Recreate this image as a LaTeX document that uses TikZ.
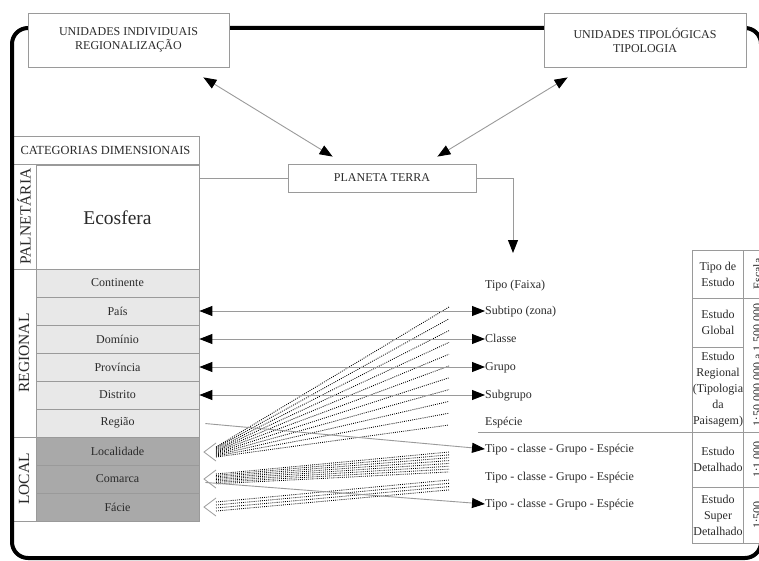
\documentclass[tikz,border=0pt]{standalone}
\usepackage{fontspec}
\setmainfont{Liberation Serif}
\usetikzlibrary{arrows.meta,calc}
\definecolor{lineg}{HTML}{9A9A9A}
\definecolor{txt}{HTML}{2A2A2A}
\definecolor{regfill}{HTML}{E8E8E8}
\definecolor{locfill}{HTML}{A9A9A9}
\begin{document}
\begin{tikzpicture}[x=1pt,y=-1pt,
  every node/.style={text=txt,font=\fontsize{12}{14}\selectfont},
  box/.style={draw=lineg,line width=0.8pt,fill=white,inner sep=0pt,align=center},
  regrow/.style={box,fill=regfill,minimum width=163pt,minimum height=28pt},
  locrow/.style={box,fill=locfill,minimum width=163pt,minimum height=28pt},
  sidecell/.style={box,rotate=90,minimum height=24pt,font=\fontsize{15.5}{18}\selectfont},
  studycell/.style={box,minimum width=52pt,font=\fontsize{12}{16}\selectfont},
  scalecell/.style={box,rotate=90,minimum height=28pt},
  lab/.style={anchor=west,inner sep=0pt,text height=9pt,text depth=3pt},
  link/.style={draw=lineg,line width=0.9pt},
  twoway/.style={link,{Triangle[length=13pt,width=10pt,color=black]}-{Triangle[length=13pt,width=10pt,color=black]}},
  oneway/.style={link,-{Triangle[length=13pt,width=10pt,color=black]}},
  fan/.style={draw=black,line width=0.85pt,dash pattern=on 0.9pt off 1.2pt},
  hollow/.style={draw=lineg,line width=0.8pt}
]
\clip (0,0) rectangle (759,561);

% ---- left table: dimensional categories ----
\node[box,minimum width=187pt,minimum height=28pt,font=\fontsize{12.4}{14}\selectfont] (cat) at (105.5,150) {CATEGORIAS DIMENSIONAIS};
\node[box,minimum width=163pt,minimum height=105pt,font=\fontsize{19.5}{22}\selectfont] (eco) at (117.5,217.5) {Ecosfera};
\node[sidecell,minimum width=105pt] (pal) at (24,216.5) {PALNETÁRIA};
\node[sidecell,minimum width=168pt] (reg) at (24,353) {REGIONAL};
\node[sidecell,minimum width=84pt] (loc) at (24,479) {LOCAL};

\node[regrow] (cont) at (117.5,283) {Continente};
\node[regrow] (pais) at (117.5,311) {País};
\node[regrow] (dom)  at (117.5,339) {Domínio};
\node[regrow] (prov) at (117.5,367) {Província};
\node[regrow] (dist) at (117.5,395) {Distrito};
\node[regrow] (regiao) at (117.5,423) {Região};
\node[locrow] (local) at (117.5,451) {Localidade};
\node[locrow] (com) at (117.5,479) {Comarca};
\node[locrow] (fac) at (117.5,507) {Fácie};

% ---- outer frame ----
\draw[line width=4pt,rounded corners=16pt] (12,28) rectangle (761,558);

% ---- top boxes ----
\node[box,minimum width=201pt,minimum height=54pt] (u1) at (128.5,40) {UNIDADES INDIVIDUAIS\\REGIONALIZAÇÃO};
\node[box,minimum width=202pt,minimum height=54pt] (u2) at (645,40) {UNIDADES TIPOLÓGICAS\\TIPOLOGIA};
\node[box,minimum width=188pt,minimum height=28pt] (pt) at (382,178) {PLANETA TERRA};

% ---- right column labels ----
\node[lab] (faixa) at (485,285) {Tipo (Faixa)};
\node[lab] (subt)  at (485,311) {Subtipo (zona)};
\node[lab] (cls)   at (485,339) {Classe};
\node[lab] (grp)   at (485,367) {Grupo};
\node[lab] (subg)  at (485,395) {Subgrupo};
\node[lab] (esp)   at (485,422) {Espécie};
\node[lab] (tcg1)  at (485,449) {Tipo - classe - Grupo - Espécie};
\node[lab] (tcg2)  at (485,477) {Tipo - classe - Grupo - Espécie};
\node[lab] (tcg3)  at (485,504) {Tipo - classe - Grupo - Espécie};

% ---- study type / scale table ----
\node[studycell,minimum height=48pt] (tde)  at (718,274)   {Tipo de\\Estudo};
\node[studycell,minimum height=49pt] (glob) at (718,322.5) {Estudo\\Global};
\node[studycell,minimum height=85pt] (regi) at (718,389.5) {Estudo\\Regional\\(Tipologia\\da\\Paisagem)};
\node[studycell,minimum height=55pt] (det)  at (718,459.5) {Estudo\\Detalhado};
\node[studycell,minimum height=56pt] (sup)  at (718,515)   {Estudo\\Super\\Detalhado};
\node[scalecell,minimum width=48pt]  (esc) at (757.5,274)   {Escala};
\node[scalecell,minimum width=134pt] (e1)  at (757.5,365)   {1:50.000.000 a 1.500.000};
\node[scalecell,minimum width=55pt]  (e2)  at (757.5,459.5) {1:1.000};
\node[scalecell,minimum width=56pt]  (e3)  at (757.5,515)   {1:500};

% ---- connectors among the boxes ----
\draw[twoway] ($(u1.south east)+(-26,10)$) -- ($(pt.north west)+(45,-7)$);
\draw[twoway] ($(u2.south west)+(24,10)$) -- ($(pt.north east)+(-39,-7)$);
\draw[link] (eco.east |- pt.west) -- (pt.west);
\coordinate (drop) at (513,253);
\draw[oneway] (pt.east) -| (drop);
\draw[link] (regi.south west) -- ++(-214,0);

% ---- dotted fans ending in hollow heads ----
\coordinate (hlA) at (204,452);
\coordinate (hlB) at (204,479);
\coordinate (hlC) at (204,507);
\foreach \k in {0,...,10}
  \draw[fan] ($(hlA)+(12,-5+\k)$) -- (449,{307+11.8*\k});
\foreach \k in {0,...,7}
  \draw[fan] ($(hlB)+(12,-5+1.4*\k)$) -- (449,{452+2.85*\k});
\foreach \k in {0,...,3}
  \draw[fan] ($(hlC)+(12,-5+3*\k)$) -- (449,{480+3.3*\k});
\foreach \h in {hlA,hlB,hlC}
  \draw[hollow] ($(\h)+(12,-9)$) -- (\h) -- ($(\h)+(12,9)$);

% ---- row connectors ----
\draw[twoway] (pais.east) -- (subt.west);
\draw[twoway] (dom.east) -- (cls.west);
\draw[twoway] (prov.east) -- (grp.west);
\draw[twoway] (dist.east) -- (subg.west);
\draw[oneway,shorten <=6pt] (regiao.east) -- (tcg1.west);
\draw[oneway,shorten <=6pt] ($(com.east)+(0,3)$) -- (tcg3.west);
\end{tikzpicture}
\end{document}
